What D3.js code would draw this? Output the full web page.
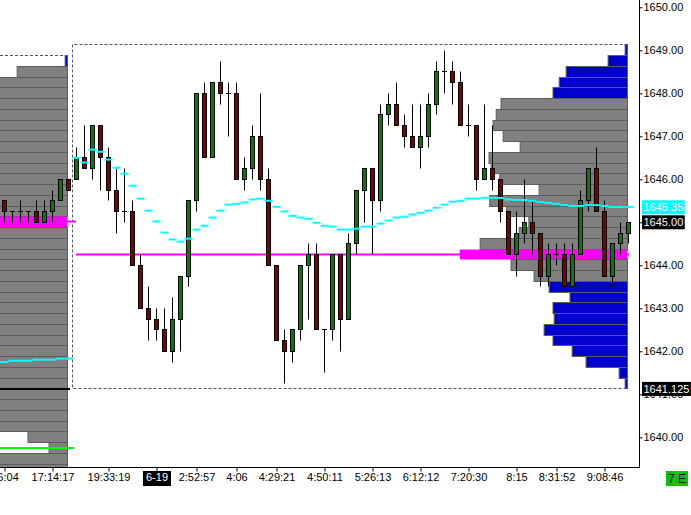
<!DOCTYPE html>
<html><head><meta charset="utf-8">
<script src="https://cdn.jsdelivr.net/npm/d3@7"></script>
<style>
html,body{margin:0;padding:0;background:#fff;}
svg{display:block;font-family:"Liberation Sans",Arial,sans-serif;}
</style>
</head><body>
<svg id="chart" width="691" height="515"></svg>
<script>
// ---------- DATA ----------
const candleOpen  = [1645.5,1645.25,1645.25,1645.25,1645.25,1645.0,1645.25,1645.5,1646.0,
 1646.0,1646.5,1646.25,1647.25,1646.5,1645.75,1645.25,1645.25,1644.0,1643.0,1642.75,1642.5,1642.0,1642.75,1643.75,1645.5,1648.0,1646.5,1648.25,1648.0,1648.0,1646.0,1646.25,1647.0,1646.0,1644.0,1642.25,1642.0,1642.5,1644.0,1644.25,1642.5,1642.5,1644.25,1642.75,1644.5,1645.75,1646.25,1645.5,1647.5,1647.75,1647.25,1647.0,1646.75,1647.0,1647.75,1648.5,1648.5,1648.25,1647.25,1647.25,1646.0,1646.25,1646.0,1645.25,1644.25,1644.75,1645.0,1644.75,1643.75,1644.25,1644.25,1643.5,1644.25,1645.5,1646.25,1645.25,1643.75,1644.5,1644.75];
const candleHigh  = [1645.5,1645.25,1645.5,1645.25,1645.5,1645.5,1645.75,1646.0,1646.0,
 1646.75,1647.25,1647.25,1647.25,1646.75,1646.25,1646.25,1645.5,1644.25,1643.5,1643.0,1643.0,1643.25,1643.75,1645.5,1648.0,1648.25,1648.25,1648.75,1648.25,1648.25,1646.5,1647.25,1648.0,1646.25,1644.0,1642.5,1642.5,1644.0,1644.5,1644.5,1642.5,1644.25,1644.25,1644.75,1645.75,1646.25,1646.25,1647.75,1648.0,1648.25,1647.5,1647.75,1647.75,1648.0,1648.75,1649.0,1648.75,1648.5,1647.75,1647.25,1647.75,1647.25,1646.0,1645.25,1645.25,1646.0,1645.5,1644.75,1644.5,1644.5,1644.5,1644.5,1645.75,1646.25,1646.75,1645.5,1644.5,1645.0,1645.0];
const candleLow   = [1645.0,1645.0,1645.0,1645.0,1645.0,1645.0,1645.0,1645.5,1645.75,
 1646.0,1646.25,1646.0,1645.75,1645.5,1644.75,1645.0,1644.0,1643.0,1642.25,1642.25,1642.0,1641.75,1642.0,1643.5,1645.25,1646.5,1646.5,1647.75,1647.0,1646.0,1645.75,1646.0,1645.75,1644.0,1642.25,1641.25,1641.75,1642.25,1642.75,1642.5,1641.5,1642.25,1642.0,1642.75,1644.25,1645.0,1644.25,1645.25,1647.25,1647.25,1646.75,1646.75,1646.25,1646.75,1647.5,1648.0,1647.75,1647.25,1647.0,1645.75,1646.0,1645.75,1645.0,1644.25,1643.75,1644.5,1644.25,1643.5,1643.5,1644.0,1643.5,1643.5,1644.25,1645.25,1645.25,1643.75,1643.5,1644.25,1644.5];
const candleClose = [1645.25,1645.25,1645.25,1645.25,1645.0,1645.25,1645.5,1646.0,1645.75,
 1646.5,1646.25,1647.25,1646.5,1645.75,1645.25,1645.25,1644.0,1643.0,1642.75,1642.5,1642.0,1642.75,1643.75,1645.5,1648.0,1646.5,1648.25,1648.0,1648.0,1646.0,1646.25,1647.0,1646.0,1644.0,1642.25,1642.0,1642.5,1644.0,1644.25,1642.5,1642.5,1644.25,1642.75,1644.5,1645.75,1646.25,1645.5,1647.5,1647.75,1647.25,1647.0,1646.75,1647.0,1647.75,1648.5,1648.5,1648.25,1647.25,1647.25,1646.0,1646.25,1646.0,1645.25,1644.25,1644.75,1645.0,1644.75,1643.75,1644.25,1644.25,1643.5,1644.25,1645.5,1646.25,1645.25,1643.75,1644.5,1644.75,1645.0];

// previous-session VWAP (bars 0..8) and current-session VWAP (bars 9..78)
const prevVwap = [1641.75,1641.78,1641.78,1641.78,1641.805,1641.805,1641.805,1641.83,1641.83];
const vwapStart = 9;
const vwap = [1646.50,1646.39,1646.69,1646.64,1646.46,1646.27,1646.13,1645.85,1645.55,1645.27,
 1645.02,1644.76,1644.60,1644.55,1644.62,1644.83,1644.92,1645.11,1645.27,1645.41,
 1645.43,1645.46,1645.53,1645.55,1645.50,1645.36,1645.25,1645.15,1645.11,1645.08,
 1644.99,1644.92,1644.90,1644.83,1644.83,1644.85,1644.90,1644.90,1644.97,1645.04,
 1645.11,1645.13,1645.18,1645.22,1645.27,1645.34,1645.41,1645.48,1645.50,1645.55,
 1645.55,1645.57,1645.57,1645.565,1645.53,1645.52,1645.52,1645.50,1645.47,1645.45,
 1645.43,1645.40,1645.38,1645.38,1645.40,1645.40,1645.38,1645.355,1645.355,1645.355];

const timeIdx    = [0,6,13,19,24,29,34,40,46,52,58,64,69,75];
const timeLabels = ["16:04","17:14:17","19:33:19","6-19","2:52:57","4:06","4:29:21","4:50:11","5:26:13","6:12:12","7:20:30","8:15","8:31:52","9:08:46"];
const priceTicks = [1640,1641,1642,1643,1644,1645,1646,1647,1648,1649,1650];

// volume profiles
const rightProfilePrice = [1649.00,1648.75,1648.50,1648.25,1648.00,1647.75,1647.50,1647.25,1647.00,1646.75,1646.50,1646.25,1646.00,1645.75,1645.50,1645.25,1645.00,1644.75,1644.50,1644.25,1644.00,1643.75,1643.50,1643.25,1643.00,1642.75,1642.50,1642.25,1642.00,1641.75,1641.50,1641.25];
const rightProfileVol   = [10,81,256,285,311,528,548,561,519,448,578,569,533,369,575,505,412,452,615,700,486,390,327,240,311,306,348,311,231,173,35,10];
const rightPOC = 1644.25, rightVAH = 1647.75, rightVAL = 1643.75;

const leftProfilePrice = [1648.75,1648.50,1648.25,1648.00,1647.75,1647.50,1647.25,1647.00,1646.75,1646.50,1646.25,1646.00,1645.75,1645.50,1645.25,1645.00,1644.75,1644.50,1644.25,1644.00,1643.75,1643.50,1643.25,1643.00,1642.75,1642.50,1642.25,1642.00,1641.75,1641.50,1641.25,1641.00,1640.75,1640.50,1640.25,1640.00,1639.75,1639.50,1639.25];
const leftProfileVol   = [10,210,420,510,560,600,640,700,720,760,800,850,900,960,1000,1080,980,940,900,860,820,780,760,720,690,650,620,580,540,500,460,420,390,350,310,165,77,300,290];
const leftPOC = 1645.00, leftVAH = 1648.50, leftVAL = 1639.25;

const sessionHigh = 1649.125, sessionLow = 1641.125, prevSessionHigh = 1648.875;
const blackLevel = 1641.125, greenLevel = 1639.75;
const lastPrice = 1645.00, lastVwap = 1645.35;
const tickStep = 0.25;

// ---------- LAYOUT ----------
const W = 691, H = 515, plotR = 639.5, plotB = 467.5;
const svg = d3.select("#chart");
const x = d3.scaleLinear().domain([0, 78]).range([4.5, 628.5]);
const y = d3.scaleLinear().domain([1640, 1650]).range([437.3, 7.3]);
const vx = d3.scaleLinear().domain([0, 700]).range([0, 167.7]);
const px = v => Math.round(v - 0.5) + 0.5;

svg.append("rect").attr("width", W).attr("height", H).attr("fill", "#fff");
svg.append("defs").append("clipPath").attr("id", "plot")
  .append("rect").attr("x", 0).attr("y", 0).attr("width", 639).attr("height", 467);
const g = svg.append("g").attr("clip-path", "url(#plot)");

// profiles
function drawProfile(prices, vols, rightEdge, poc, vah, val) {
  const rows = prices.map((p, i) => ({p, v: vols[i]}));
  g.append("g").selectAll("rect").data(rows).join("rect")
    .attr("x", d => rightEdge - vx(d.v))
    .attr("width", d => vx(d.v))
    .attr("y", d => px(y(d.p + tickStep / 2)))
    .attr("height", d => px(y(d.p - tickStep / 2)) - px(y(d.p + tickStep / 2)))
    .attr("fill", d => d.p === poc ? "#ff00ff" : (d.p <= vah && d.p >= val ? "#808080" : "#0000cc"))
    .attr("stroke", d => d.p === poc ? "none" : "#5c5c5c")
    .attr("stroke-width", 1);
}
drawProfile(leftProfilePrice, leftProfileVol, 67.5, leftPOC, leftVAH, leftVAL);
drawProfile(rightProfilePrice, rightProfileVol, 627.5, rightPOC, rightVAH, rightVAL);

// session boxes (dashed)
const dash = "3,2";
g.append("line").attr("x1", 0).attr("x2", 65).attr("y1", px(y(prevSessionHigh))).attr("y2", px(y(prevSessionHigh)))
  .attr("stroke", "#555").attr("stroke-dasharray", dash);
g.append("path")
  .attr("d", `M627.5,${px(y(sessionHigh))}H72.5V${px(y(sessionLow))}H627.5`)
  .attr("fill", "none").attr("stroke", "#555").attr("stroke-dasharray", dash);

// level lines
g.append("line").attr("x1", 0).attr("x2", 70).attr("y1", y(blackLevel)).attr("y2", y(blackLevel))
  .attr("stroke", "#000").attr("stroke-width", 2);
g.append("line").attr("x1", 0).attr("x2", 74).attr("y1", y(greenLevel)).attr("y2", y(greenLevel))
  .attr("stroke", "#00ff00").attr("stroke-width", 2);
g.append("line").attr("x1", 67.5).attr("x2", 76).attr("y1", y(leftPOC) - 0.8).attr("y2", y(leftPOC) - 0.8)
  .attr("stroke", "#ff00ff").attr("stroke-width", 2);
g.append("line").attr("x1", 76).attr("x2", 629).attr("y1", y(rightPOC)).attr("y2", y(rightPOC))
  .attr("stroke", "#ff00ff").attr("stroke-width", 2);

// previous VWAP
g.append("g").selectAll("line").data(prevVwap).join("line")
  .attr("x1", (d, i) => i === 0 ? 0 : x(i) - 4)
  .attr("x2", (d, i) => i === prevVwap.length - 1 ? 73 : x(i) + 4)
  .attr("y1", d => y(d)).attr("y2", d => y(d))
  .attr("stroke", "#00ffff").attr("stroke-width", 2);

// candles
const candles = candleOpen.map((o, i) => ({i, o, h: candleHigh[i], l: candleLow[i], c: candleClose[i]}));
const cg = g.append("g").selectAll("g").data(candles).join("g");
cg.append("line")
  .attr("x1", d => x(d.i)).attr("x2", d => x(d.i))
  .attr("y1", d => px(y(d.h))).attr("y2", d => px(y(d.l)))
  .attr("stroke", "#000").attr("stroke-width", 1);
cg.filter(d => d.o !== d.c).append("rect")
  .attr("x", d => x(d.i) - 2).attr("width", 4)
  .attr("y", d => px(y(Math.max(d.o, d.c))))
  .attr("height", d => px(y(Math.min(d.o, d.c))) - px(y(Math.max(d.o, d.c))))
  .attr("fill", d => d.c > d.o ? "#008000" : "#800000")
  .attr("stroke", "#000").attr("stroke-width", 1);
cg.filter(d => d.o === d.c).append("line")
  .attr("x1", d => x(d.i) - 2.5).attr("x2", d => x(d.i) + 2.5)
  .attr("y1", d => px(y(d.o))).attr("y2", d => px(y(d.o)))
  .attr("stroke", "#000").attr("stroke-width", 1);

// current VWAP
g.append("g").selectAll("line").data(vwap).join("line")
  .attr("x1", (d, i) => x(i + vwapStart) - 4)
  .attr("x2", (d, i) => i === vwap.length - 1 ? 633 : x(i + vwapStart) + 4)
  .attr("y1", d => y(d)).attr("y2", d => y(d))
  .attr("stroke", "#00ffff").attr("stroke-width", 2);

// axes
svg.append("line").attr("x1", plotR).attr("x2", plotR).attr("y1", 0).attr("y2", plotB).attr("stroke", "#000");
svg.append("line").attr("x1", 0).attr("x2", plotR).attr("y1", plotB).attr("y2", plotB).attr("stroke", "#000");

const ya = svg.append("g").attr("transform", `translate(${plotR},0)`)
  .call(d3.axisRight(y).tickValues(priceTicks).tickFormat(d3.format(".2f")).tickSize(3).tickPadding(1));
ya.select(".domain").remove();
ya.selectAll("text").attr("font-size", 11).attr("font-family", "Liberation Sans, Arial, sans-serif").attr("fill", "#000");

const xa = svg.append("g").attr("transform", `translate(0,${plotB})`)
  .call(d3.axisBottom(x).tickValues(timeIdx).tickFormat((d, i) => timeLabels[i]).tickSize(4).tickPadding(2));
xa.select(".domain").remove();
xa.selectAll("text").attr("font-size", 11).attr("font-family", "Liberation Sans, Arial, sans-serif").attr("fill", "#000");
xa.selectAll(".tick").filter((d, i) => timeLabels[i] === "6-19").each(function () {
  const t = d3.select(this).select("text").attr("fill", "#fff");
  const b = t.node().getBBox();
  d3.select(this).insert("rect", "text")
    .attr("x", b.x - 3).attr("y", 3.5).attr("width", b.width + 6).attr("height", 15).attr("fill", "#000");
});

// price markers on axis
function marker(price, bg, fg, txt) {
  const yy = y(price);
  const gm = svg.append("g");
  const t = gm.append("text").attr("x", 643.5).attr("y", yy).attr("dy", "0.35em")
    .attr("font-size", 11).attr("fill", fg).text(txt);
  const b = t.node().getBBox();
  gm.insert("rect", "text").attr("x", 642).attr("y", yy - 7).attr("width", Math.min(b.width + 3, 49)).attr("height", 14).attr("fill", bg);
}
marker(lastVwap, "#00ffff", "#ffffff", d3.format(".2f")(lastVwap));
marker(lastPrice, "#000000", "#ffffff", d3.format(".2f")(lastPrice));
marker(sessionLow, "#000000", "#ffffff", d3.format(".3f")(sessionLow));

// "7 E" badge
const badge = svg.append("g");
badge.append("rect").attr("x", 666).attr("y", 471).attr("width", 22).attr("height", 15).attr("fill", "#00c800");
badge.append("text").attr("x", 677).attr("y", 478.5).attr("dy", "0.35em").attr("text-anchor", "middle")
  .attr("font-size", 12).attr("fill", "#000").text("7 E");
</script>
</body></html>
